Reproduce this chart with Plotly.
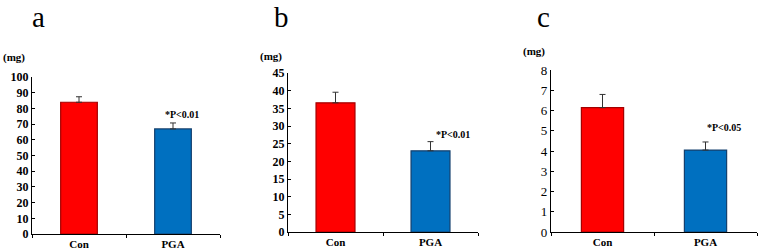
import plotly.graph_objects as go

categories = ["Con", "PGA"]
panel_labels = ["a", "b", "c"]
means_a = [84.0, 67.0]
err_a = [3.5, 3.8]
means_b = [36.6, 23.0]
err_b = [3.0, 2.6]
means_c = [6.15, 4.05]
err_c = [0.65, 0.4]
pvals = ["*P<0.01", "*P<0.01", "*P<0.05"]
yticks_a = [0, 10, 20, 30, 40, 50, 60, 70, 80, 90, 100]
yticks_b = [0, 5, 10, 15, 20, 25, 30, 35, 40, 45]
yticks_c = [0, 1, 2, 3, 4, 5, 6, 7, 8]

W, H = 758, 250
fig = go.Figure()

FAM = "Liberation Serif"
# pixel layouts (left, right, bottom, top)
px = [(32, 220, 234, 77), (288, 478, 232, 73), (551, 757, 232, 70)]
bw = [0.39, 0.41, 0.41]
fills = ["#ff0000", "#0070c0"]
lines = ["#a40000", "#14406e"]
data = [(means_a, err_a), (means_b, err_b), (means_c, err_c)]
yticks = [yticks_a, yticks_b, yticks_c]
ann_y = [76, 27.5, 5.15]
ann_xs = [9, 22, 18]
bold = [True, True, False]

for i, ((m, e), (l, r, b, t)) in enumerate(zip(data, px)):
    xa = "x" if i == 0 else f"x{i+1}"
    ya = "y" if i == 0 else f"y{i+1}"
    fig.add_trace(go.Bar(
        x=categories, y=m, width=bw[i],
        marker=dict(color=fills, line=dict(color=lines, width=1.2)),
        error_y=dict(type="data", symmetric=False, array=e, arrayminus=[0, 0],
                     color="#333333", thickness=1, width=3),
        xaxis=xa, yaxis=ya, showlegend=False, hoverinfo="skip"))
    tv = yticks[i]
    tt = [f"<b>{v}</b>" if bold[i] else str(v) for v in tv]
    xkey = "xaxis" if i == 0 else f"xaxis{i+1}"
    ykey = "yaxis" if i == 0 else f"yaxis{i+1}"
    fig.layout[xkey] = dict(
        domain=[l / W, r / W], anchor=ya, type="category",
        range=[-0.5, 1.5], tickson="boundaries", ticks="outside", ticklen=3,
        tickcolor="black", showline=True, linecolor="black", linewidth=1.3,
        showgrid=False, zeroline=False, fixedrange=True, automargin=False,
        tickmode="array", tickvals=categories,
        ticktext=[f"<b>{c}</b>" for c in categories],
        tickfont=dict(family=FAM, size=11, color="black"))
    fig.layout[ykey] = dict(
        domain=[(H - b) / H, (H - t) / H], anchor=xa, range=[0, tv[-1] * 1.001],
        tickmode="array", tickvals=tv, ticktext=tt, ticks="inside", ticklen=3,
        tickcolor="black", showline=True, linecolor="black", linewidth=1.3,
        showgrid=False, zeroline=False, automargin=False,
        tickfont=dict(family=FAM, size=12 if bold[i] else 13, color="black"),
        fixedrange=True)
    # p-value annotation
    fig.add_annotation(x="PGA", y=ann_y[i], xref=xa, yref=ya, text=f"<b>{pvals[i]}</b>",
                       showarrow=False, xshift=ann_xs[i],
                       font=dict(family=FAM, size=10, color="black"))

# panel letters
letters_x = [28, 281, 543]
for lab, x in zip(panel_labels, letters_x):
    fig.add_annotation(x=x / W, y=1, xref="paper", yref="paper", text=lab,
                       showarrow=False, font=dict(family=FAM, size=29, color="black"),
                       xanchor="center", yanchor="top", borderpad=0,
                       xshift=10 if lab == "a" else 0)
# unit labels
mg_pos = [(14, 58), (271, 57), (534, 52)]
for x, y in mg_pos:
    fig.add_annotation(x=x / W, y=1 - y / H, xref="paper", yref="paper", text="<b>(mg)</b>",
                       showarrow=False, font=dict(family=FAM, size=11, color="black"),
                       xanchor="center", yanchor="middle")

fig.update_layout(template="none", width=W, height=H, margin=dict(l=0, r=0, t=0, b=0),
                  plot_bgcolor="white", paper_bgcolor="white", bargap=0.6)
fig.write_html("out.html", config={"displayModeBar": False},
               post_script="document.body.style.margin='0';document.body.style.overflow='hidden';")
